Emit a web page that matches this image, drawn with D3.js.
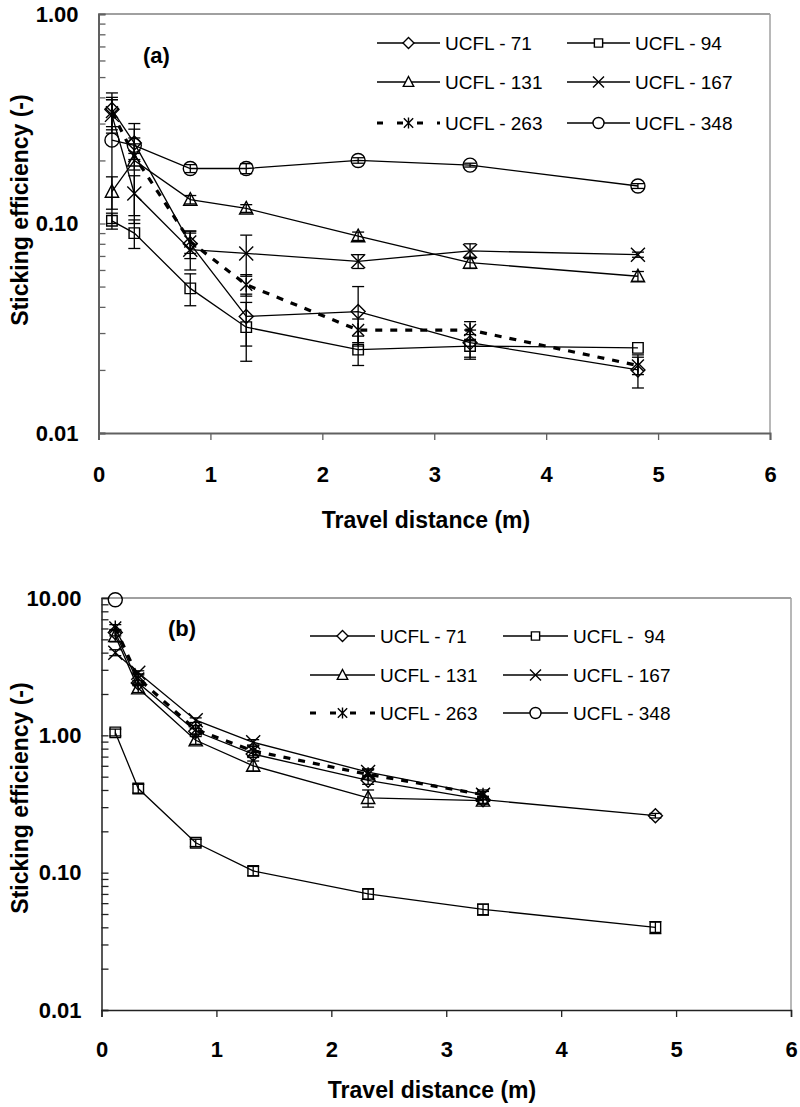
<!DOCTYPE html>
<html><head><meta charset="utf-8">
<script src="https://cdn.jsdelivr.net/npm/d3@7"></script>
<style>
body{margin:0;background:#fff;}
svg{display:block;font-family:Arial,"Liberation Sans",Helvetica,sans-serif;}
</style></head>
<body>
<svg id="c" width="800" height="1107"></svg>
<script>
// ---------- data ----------
const distances = [0.12, 0.32, 0.82, 1.32, 2.32, 3.32, 4.82];
const seriesNames = ["UCFL - 71", "UCFL - 94", "UCFL - 131", "UCFL - 167", "UCFL - 263", "UCFL - 348"];
const legendNamesB = ["UCFL - 71", "UCFL -  94", "UCFL - 131", "UCFL - 167", "UCFL - 263", "UCFL - 348"];
const seriesMarkers = ["diamond", "square", "triangle", "x", "asterisk", "circle"];

// panel (a)
const a71  = [0.35, 0.242, 0.080, 0.036, 0.038, 0.027, 0.020];
const a94  = [0.103, 0.090, 0.049, 0.032, 0.025, 0.026, 0.0255];
const a131 = [0.142, 0.200, 0.130, 0.118, 0.087, 0.065, 0.056];
const a167 = [0.33, 0.139, 0.075, 0.072, 0.066, 0.074, 0.071];
const a263 = [0.34, 0.210, 0.082, 0.051, 0.031, 0.031, 0.021];
const a348 = [0.25, 0.236, 0.183, 0.183, 0.200, 0.190, 0.151];
const ea71  = [0.07, 0.04, 0.012, 0.010, 0.012, 0.004, 0.0036];
const ea94  = [0.009, 0.014, 0.0085, 0.010, 0.004, 0.0035, 0];
const ea131 = [0.025, 0.10, 0.006, 0.005, 0.004, 0.004, 0.003];
const ea167 = [0.06, 0.03, 0.015, 0.016, 0.005, 0.006, 0.002];
const ea263 = [0.05, 0.03, 0.010, 0.006, 0.004, 0.003, 0.002];
const ea348 = [0.15, 0.02, 0.008, 0.010, 0.006, 0.004, 0.004];

// panel (b)
const b71  = [5.6, 2.4, 1.07, 0.73, 0.47, 0.34, 0.26];
const b94  = [1.05, 0.41, 0.165, 0.103, 0.070, 0.054, 0.040];
const b131 = [5.3, 2.2, 0.92, 0.60, 0.35, 0.335, null];
const b167 = [4.0, 2.85, 1.29, 0.89, 0.54, 0.37, null];
const b263 = [6.1, 2.6, 1.10, 0.77, 0.52, 0.37, null];
const b348 = [9.7, null, null, null, null, null, null];
const eb71  = [0.3, 0.1, 0.05, 0.04, 0.03, 0.02, 0.01];
const eb94  = [0.06, 0.03, 0.01, 0.008, 0.006, 0.005, 0.004];
const eb131 = [0.5, 0.15, 0.06, 0.05, 0.05, 0.02, null];
const eb167 = [0.2, 0.1, 0.05, 0.04, 0.03, 0.02, null];
const eb263 = [0.3, 0.2, 0.08, 0.06, 0.04, 0.03, null];
const eb348 = [0, null, null, null, null, null, null];

const xTicks = [0, 1, 2, 3, 4, 5, 6];
const yTitle = "Sticking efficiency (-)";
const xTitle = "Travel distance (m)";

// ---------- drawing ----------
const svg = d3.select("#c");

function markerPath(type, s) {
  const p = d3.path();
  const h = s / 2;
  if (type === "diamond") { p.moveTo(0,-h); p.lineTo(h,0); p.lineTo(0,h); p.lineTo(-h,0); p.closePath(); }
  else if (type === "square") { const q = h*0.75; p.rect(-q,-q,2*q,2*q); }
  else if (type === "triangle") { p.moveTo(0,-h); p.lineTo(h*0.95,h*0.8); p.lineTo(-h*0.95,h*0.8); p.closePath(); }
  else if (type === "x") { p.moveTo(-h,-h); p.lineTo(h,h); p.moveTo(h,-h); p.lineTo(-h,h); }
  else if (type === "asterisk") { const q=h*0.85; p.moveTo(-q,-q); p.lineTo(q,q); p.moveTo(q,-q); p.lineTo(-q,q); p.moveTo(0,-h); p.lineTo(0,h); }
  else if (type === "circle") { p.moveTo(h,0); p.arc(0,0,h,0,2*Math.PI); }
  return p.toString();
}

function panel(cfg) {
  const x = d3.scaleLinear().domain([0, 6]).range([cfg.x0, cfg.x1]);
  const y = d3.scaleLog().domain([0.01, cfg.yMax]).range([cfg.yBot, cfg.yTop]);
  const g = svg.append("g");

  // frame (top, right)
  g.append("line").attr("x1", cfg.x0).attr("x2", cfg.x1).attr("y1", cfg.yTop).attr("y2", cfg.yTop)
    .attr("stroke", "#a0a0a0").attr("stroke-width", 2);
  g.append("line").attr("x1", cfg.x1).attr("x2", cfg.x1).attr("y1", cfg.yTop).attr("y2", cfg.yBot)
    .attr("stroke", "#a0a0a0").attr("stroke-width", 1.5);

  // minor/major y ticks (inward)
  const decades = d3.range(Math.round(Math.log10(0.01)), Math.round(Math.log10(cfg.yMax)) + 1).map(e => Math.pow(10, e));
  const allTicks = [];
  decades.forEach((d, i) => { if (i < decades.length - 1) for (let k = 1; k < 10; k++) allTicks.push(d * k); });
  allTicks.push(cfg.yMax);
  const ya = g.append("g").attr("transform", `translate(${cfg.x0},0)`)
    .call(d3.axisLeft(y).tickValues(allTicks).tickSize(-7).tickFormat(""));
  ya.select(".domain").attr("stroke", cfg.axisColor).attr("stroke-width", cfg.axisWidth);
  ya.selectAll(".tick line").attr("stroke", cfg.axisColor).attr("stroke-width", 1.3);

  const yl = g.append("g").attr("transform", `translate(${cfg.x0},0)`)
    .call(d3.axisLeft(y).tickValues(decades).tickSize(0).tickPadding(20).tickFormat(d3.format(".2f")));
  yl.select(".domain").remove();
  yl.selectAll("text").attr("font-size", 22).attr("font-weight", "bold").attr("fill", "#000")
    .attr("font-family", "Arial, 'Liberation Sans', sans-serif");

  // x axis
  const xa = g.append("g").attr("transform", `translate(0,${cfg.yBot})`)
    .call(d3.axisBottom(x).tickValues(xTicks).tickSize(7).tickPadding(cfg.xPad).tickFormat(d3.format("d")));
  xa.select(".domain").attr("stroke", cfg.axisColor).attr("stroke-width", cfg.axisWidth);
  xa.selectAll(".tick line").attr("stroke", cfg.axisColor).attr("stroke-width", 1.3);
  xa.selectAll("text").attr("font-size", 22).attr("font-weight", "bold").attr("fill", "#000")
    .attr("font-family", "Arial, 'Liberation Sans', sans-serif");

  // titles
  g.append("text").attr("x", cfg.xTitleX).attr("y", cfg.xTitleY).attr("text-anchor", "middle")
    .attr("dominant-baseline", "central").attr("font-size", 23).attr("font-weight", "bold").text(xTitle);
  g.append("text").attr("transform", `translate(${cfg.yTitleX},${cfg.yTitleY}) rotate(-90)`)
    .attr("text-anchor", "middle").attr("dominant-baseline", "central")
    .attr("font-size", 23).attr("font-weight", "bold").text(yTitle);
  g.append("text").attr("x", cfg.tagX).attr("y", cfg.tagY).attr("dominant-baseline", "central")
    .attr("font-size", 22).attr("font-weight", "bold").text(cfg.tag);

  // series
  cfg.series.forEach((vals, si) => {
    const pts = distances.map((d, i) => ({ x: d, v: vals[i], e: cfg.errors[si][i] }));
    const dashed = seriesMarkers[si] === "asterisk";
    const line = d3.line().defined(p => p.v != null).x(p => x(p.x)).y(p => y(p.v));
    g.append("path").attr("d", line(pts)).attr("fill", "none").attr("stroke", "#000")
      .attr("stroke-width", dashed ? 3.2 : 1.3).attr("stroke-dasharray", dashed ? "7,8" : null);
    pts.filter(p => p.v != null && p.e).forEach(p => {
      const lo = Math.max(p.v - p.e, 0.0101), hi = p.v + p.e;
      const cx = x(p.x);
      g.append("line").attr("x1", cx).attr("x2", cx).attr("y1", y(lo)).attr("y2", y(hi)).attr("stroke", "#000").attr("stroke-width", 1.3);
      [lo, hi].forEach(v => g.append("line").attr("x1", cx - 6).attr("x2", cx + 6).attr("y1", y(v)).attr("y2", y(v))
        .attr("stroke", "#000").attr("stroke-width", 1.3));
    });
    pts.filter(p => p.v != null).forEach(p => {
      g.append("path").attr("transform", `translate(${x(p.x)},${y(p.v)})`)
        .attr("d", markerPath(seriesMarkers[si], 14)).attr("fill", "none").attr("stroke", "#000").attr("stroke-width", 1.4);
    });
  });

  // legend
  cfg.legendNames.forEach((name, i) => {
    const col = i % 2, row = Math.floor(i / 2);
    const lx = cfg.legX[col], ly = cfg.legY[row];
    const dashed = seriesMarkers[i] === "asterisk";
    g.append("line").attr("x1", lx).attr("x2", lx + cfg.legLen).attr("y1", ly).attr("y2", ly)
      .attr("stroke", "#000").attr("stroke-width", dashed ? 3.2 : 1.3).attr("stroke-dasharray", dashed ? "6,14" : null);
    g.append("path").attr("transform", `translate(${lx + cfg.legLen / 2},${ly})`)
      .attr("d", markerPath(seriesMarkers[i], 11)).attr("fill", dashed ? "none" : "#fff").attr("stroke", "#000").attr("stroke-width", 1.4);
    g.append("text").attr("x", lx + cfg.legLen + 5).attr("y", ly).attr("dominant-baseline", "central")
      .attr("font-size", 19).attr("xml:space", "preserve").style("white-space", "pre").text(name);
  });
}

panel({
  x0: 98.5, x1: 770, yTop: 14, yBot: 433, yMax: 1,
  axisColor: "#606060", axisWidth: 2, xPad: 26,
  xTitleX: 426, xTitleY: 520, yTitleX: 20, yTitleY: 210,
  tag: "(a)", tagX: 143, tagY: 55,
  series: [a71, a94, a131, a167, a263, a348],
  errors: [ea71, ea94, ea131, ea167, ea263, ea348],
  legendNames: seriesNames, legX: [377, 567], legY: [43, 82, 123], legLen: 63
});

panel({
  x0: 101.5, x1: 791, yTop: 598, yBot: 1010, yMax: 10,
  axisColor: "#222", axisWidth: 1.5, xPad: 24,
  xTitleX: 432, xTitleY: 1090, yTitleX: 20, yTitleY: 798,
  tag: "(b)", tagX: 168, tagY: 628,
  series: [b71, b94, b131, b167, b263, b348],
  errors: [eb71, eb94, eb131, eb167, eb263, eb348],
  legendNames: legendNamesB, legX: [310, 503], legY: [636, 675, 713], legLen: 65
});
</script>
</body></html>
